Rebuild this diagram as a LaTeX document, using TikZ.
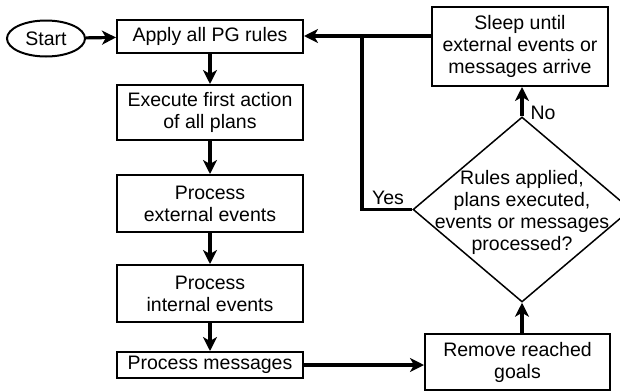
\documentclass[tikz,border=0pt]{standalone}
\usepackage{fontspec}
\setmainfont{Liberation Sans}
\usetikzlibrary{arrows.meta,shapes.geometric}
\begin{document}
\begin{tikzpicture}[x=1pt,y=-1pt,
  every node/.style={font=\fontsize{19.5}{22}\selectfont},
  box/.style={draw,line width=2pt,inner sep=0pt,align=center},
  flow/.style={line width=3.2pt,-{Stealth[length=14pt,width=14pt,inset=4pt]}},
  plain/.style={line width=3.2pt}]
\useasboundingbox (0,0) rectangle (620,391);
\node[draw,ellipse,line width=2pt,inner sep=0pt,minimum width=78pt,minimum height=36pt] (start) at (46,38.5) {Start};
\node[box,minimum width=186pt,minimum height=33pt] (apply) at (210,36) {Apply all PG rules};
\node[box,minimum width=186pt,minimum height=55pt] (exec) at (210,112.5) {Execute first action\\of all plans};
\node[box,minimum width=186pt,minimum height=57pt] (ext) at (210,203.5) {Process\\external events};
\node[box,minimum width=186pt,minimum height=57pt] (int) at (210,293.5) {Process\\internal events};
\node[box,minimum width=186pt,minimum height=26pt] (msg) at (210,365) {Process messages};
\node[box,minimum width=185pt,minimum height=56pt] (rem) at (517.5,362) {Remove reached\\goals};
\node[box,minimum width=176pt,minimum height=79pt] (sleep) at (520,46.5) {Sleep until\\external events or\\messages arrive};
\node[draw,diamond,line width=1.5pt,inner sep=0pt,minimum width=218pt,minimum height=185pt] (d) at (522,209.5) {};
\node[align=center,inner sep=0pt] (dtext) at (522,212) {Rules applied,\\plans executed,\\events or messages\\processed?};
\node[inner sep=0pt] (yes) at (388,198) {Yes};
\node[inner sep=0pt] (no) at (543,113) {No};
\coordinate (j) at (362,36);
\draw[flow] (start) -- (apply);
\draw[flow] (apply) -- (exec);
\draw[flow] (exec) -- (ext);
\draw[flow] (ext) -- (int);
\draw[flow] (int) -- (msg);
\draw[flow] (msg.east) -- (rem.west |- msg.east);
\draw[flow] (d.south |- rem.north) -- (d.south);
\draw[flow] (d.north) -- (d.north |- sleep.south);
\draw[flow] (sleep.west |- apply.east) -- (apply.east);
\draw[plain] (d.west) -| (j);
\end{tikzpicture}
\end{document}
